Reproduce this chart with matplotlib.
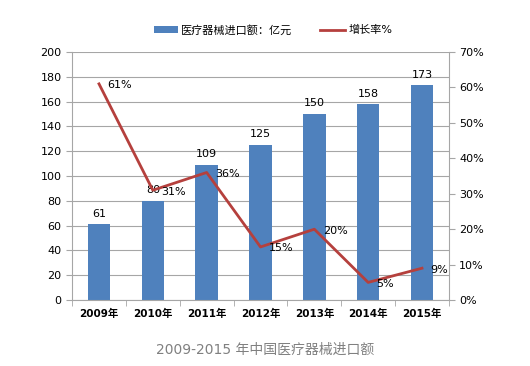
import matplotlib
matplotlib.use("Agg")
import matplotlib.pyplot as plt
import numpy as np

plt.rcParams['font.family'] = ['DejaVu Sans', 'Noto Sans CJK SC']

years = ["2009年", "2010年", "2011年", "2012年", "2013年", "2014年", "2015年"]
imports = [61, 80, 109, 125, 150, 158, 173]
growth = [61, 31, 36, 15, 20, 5, 9]
left_ticks = [0, 20, 40, 60, 80, 100, 120, 140, 160, 180, 200]
right_ticks = [0, 10, 20, 30, 40, 50, 60, 70]

bar_color = "#4F81BD"
line_color = "#B5403D"
grid_color = "#A6A6A6"

fig = plt.figure(figsize=(5.3, 3.66), dpi=100)
ax = fig.add_axes([0.136, 0.180, 0.711, 0.678])
x = np.arange(len(years))

ax.set_axisbelow(True)
bars = ax.bar(x, imports, width=0.42, color=bar_color, label="医疗器械进口额：亿元", zorder=2)
ax.set_ylim(0, 200)
ax.set_yticks(left_ticks)
ax.set_xlim(-0.5, len(years) - 0.5)
ax.yaxis.grid(True, color=grid_color, linewidth=0.8)
ax.set_xticks(x)
ax.set_xticklabels(years, fontsize=7.5, fontweight='bold')
ax.set_xticks(np.arange(len(years) + 1) - 0.5, minor=True)
ax.tick_params(axis='x', which='major', length=0, pad=6)
ax.tick_params(axis='x', which='minor', length=4, color=grid_color)
ax.tick_params(axis='y', labelsize=8, length=4, color=grid_color)
for s in ['top', 'right']:
    ax.spines[s].set_visible(False)
for s in ['left', 'bottom']:
    ax.spines[s].set_color(grid_color)

for xi, v in zip(x, imports):
    ax.annotate(str(v), (xi, v), xytext=(0, 4), textcoords='offset points',
                ha='center', va='bottom', fontsize=8)

ax2 = ax.twinx()
ax2.plot(x, growth, color=line_color, linewidth=2, label="增长率%", zorder=3)
ax2.set_ylim(0, 70)
ax2.set_yticks(right_ticks)
ax2.set_yticklabels([f"{t}%" for t in right_ticks])
ax2.tick_params(axis='y', labelsize=8, length=4, color=grid_color)
for s in ['top', 'left', 'bottom']:
    ax2.spines[s].set_visible(False)
ax2.spines['right'].set_color(grid_color)

for xi, v in zip(x, growth):
    ax2.annotate(f"{v}%", (xi, v), xytext=(6, -1), textcoords='offset points',
                 ha='left', va='center', fontsize=8)

h1, l1 = ax.get_legend_handles_labels()
h2, l2 = ax2.get_legend_handles_labels()
fig.legend(h1 + h2, l1 + l2, loc='center', bbox_to_anchor=(0.515, 0.918), ncol=2,
           frameon=False, fontsize=8, handlelength=2.2, handleheight=0.6,
           columnspacing=2.5, handletextpad=0.3)

fig.text(0.5, 0.045, "2009-2015 年中国医疗器械进口额", ha='center', va='center',
         fontsize=10, color="#808080")

fig.savefig("out.png", dpi=100)
